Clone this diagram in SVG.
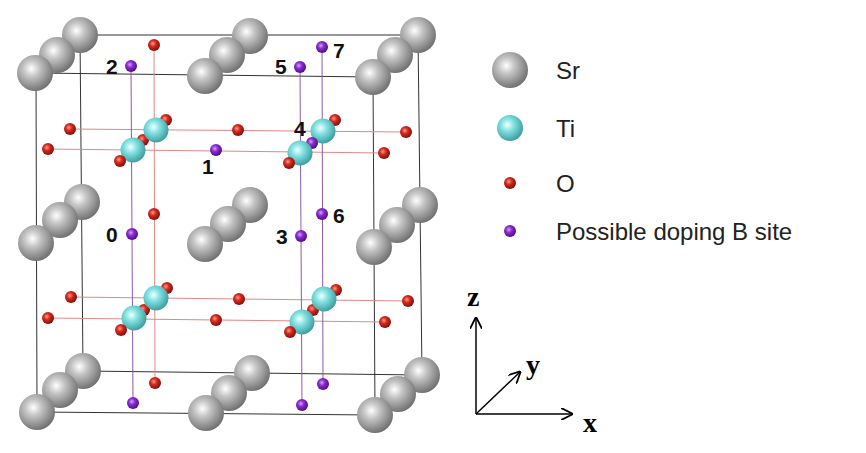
<svg xmlns="http://www.w3.org/2000/svg" width="866" height="453" viewBox="0 0 866 453">
<defs>
<radialGradient id="gs" cx="0.4" cy="0.38" r="0.65"><stop offset="0" stop-color="#ffffff"/><stop offset="0.35" stop-color="#c4c4c4"/><stop offset="1" stop-color="#6e6e6e"/></radialGradient>
<radialGradient id="gt" cx="0.4" cy="0.38" r="0.65"><stop offset="0" stop-color="#f0ffff"/><stop offset="0.4" stop-color="#7fe0e0"/><stop offset="1" stop-color="#3a9a9e"/></radialGradient>
<radialGradient id="go" cx="0.4" cy="0.38" r="0.65"><stop offset="0" stop-color="#ff9a8a"/><stop offset="0.4" stop-color="#d42a1e"/><stop offset="1" stop-color="#7a0e08"/></radialGradient>
<radialGradient id="gp" cx="0.4" cy="0.38" r="0.65"><stop offset="0" stop-color="#d9a0ff"/><stop offset="0.4" stop-color="#8a2ad0"/><stop offset="1" stop-color="#4a0c80"/></radialGradient>
<marker id="ar" viewBox="0 0 10 10" refX="9" refY="5" markerWidth="8" markerHeight="8" orient="auto"><path d="M0,0 L10,5 L0,10" fill="none" stroke="#000" stroke-width="1.5"/></marker>
</defs>
<style>
.sr{fill:url(#gs)} .ti{fill:url(#gt)} .o{fill:url(#go)} .p{fill:url(#gp)}
.bx{stroke:#333;stroke-width:1;fill:none}
.lr{stroke:#d88;stroke-width:1} .lc{stroke:#aee;stroke-width:1} .lp{stroke:#8a5aa0;stroke-width:1}
.n{font-family:"Liberation Sans",Arial,sans-serif;font-weight:bold;font-size:21px;fill:#111}
.lg{font-family:"Liberation Sans",Arial,sans-serif;font-size:24px;fill:#222}
.ax{font-family:"Liberation Serif",serif;font-weight:bold;font-size:28px;fill:#000}
</style>
<rect width="866" height="453" fill="#fff"/>
<g id="connectors">
<path class="bx" d="M80,35 L418,35 L422,375 L83,371 Z"/>
<path class="bx" d="M80,35 L36,73 M418,35 L373,77 M422,375 L375,415 M83,371 L37,412"/>
<path class="bx" d="M36,73 L373,77 L375,415 L37,412 Z"/>
<path class="bx" d="M250,36 L205,76 M250,205 L205,244 M82,202 L36,243 M420,205 L374,247 M252,373 L206,413"/>
<line class="lr" x1="70" y1="129" x2="406" y2="132"/>
<line class="lr" x1="48" y1="149" x2="384" y2="153"/>
<line class="lr" x1="71" y1="297" x2="408" y2="301"/>
<line class="lr" x1="48" y1="318" x2="385" y2="322"/>
<line class="lr" x1="154" y1="45" x2="155" y2="383"/>
<line class="lp" x1="322" y1="47" x2="323" y2="384"/>
<line class="lp" x1="131" y1="66" x2="133" y2="403"/>
<line class="lp" x1="300" y1="67" x2="302" y2="405"/>
<line class="lc" x1="120" y1="161" x2="166" y2="120"/>
<line class="lc" x1="289" y1="163" x2="335" y2="120"/>
<line class="lc" x1="121" y1="330" x2="167" y2="288"/>
<line class="lc" x1="290" y1="332" x2="336" y2="290"/>
</g>
<g id="oxygen">
<circle class="o" cx="154" cy="45" r="6"/>
<circle class="o" cx="70" cy="129" r="6"/><circle class="o" cx="238" cy="130" r="6"/><circle class="o" cx="406" cy="132" r="6"/>
<circle class="o" cx="166" cy="120" r="6"/><circle class="o" cx="335" cy="120" r="6"/>
<circle class="o" cx="143" cy="140" r="6"/>
<circle class="o" cx="48" cy="149" r="6"/><circle class="o" cx="384" cy="153" r="6"/>
<circle class="o" cx="154" cy="214" r="6"/>
<circle class="o" cx="71" cy="297" r="6"/><circle class="o" cx="239" cy="299" r="6"/><circle class="o" cx="408" cy="301" r="6"/>
<circle class="o" cx="167" cy="288" r="6"/><circle class="o" cx="336" cy="290" r="6"/>
<circle class="o" cx="144" cy="310" r="6"/><circle class="o" cx="313" cy="310" r="6"/>
<circle class="o" cx="48" cy="318" r="6"/><circle class="o" cx="216" cy="320" r="6"/><circle class="o" cx="385" cy="322" r="6"/>
<circle class="o" cx="155" cy="383" r="6"/>
</g>
<g id="ti">
<circle class="ti" cx="156" cy="130" r="12.5"/><circle class="ti" cx="133" cy="150" r="12.5"/>
<circle class="ti" cx="323" cy="131" r="12.5"/>
<circle class="p" cx="312" cy="143" r="6"/>
<circle class="ti" cx="300" cy="153" r="12.5"/>
<circle class="ti" cx="156" cy="298" r="12.5"/><circle class="ti" cx="134" cy="318" r="12.5"/>
<circle class="ti" cx="324" cy="299" r="12.5"/><circle class="ti" cx="302" cy="322" r="12.5"/>
<circle class="o" cx="120" cy="161" r="6"/><circle class="o" cx="289" cy="163" r="6"/>
<circle class="o" cx="121" cy="330" r="6"/><circle class="o" cx="290" cy="332" r="6"/>
</g>
<g id="bsites">
<circle class="p" cx="131" cy="66" r="6"/><circle class="p" cx="300" cy="67" r="6"/><circle class="p" cx="322" cy="47" r="6"/>
<circle class="p" cx="216" cy="150" r="6"/><circle class="p" cx="322" cy="214" r="6"/>
<circle class="p" cx="132" cy="234" r="6"/><circle class="p" cx="301" cy="236" r="6"/>
<circle class="p" cx="133" cy="403" r="6"/><circle class="p" cx="302" cy="405" r="6"/><circle class="p" cx="323" cy="384" r="6"/>
</g>
<g id="sr">
<circle class="sr" cx="80" cy="35" r="18"/><circle class="sr" cx="57" cy="55" r="18"/><circle class="sr" cx="35" cy="73" r="18"/>
<circle class="sr" cx="250" cy="36" r="18"/><circle class="sr" cx="227" cy="55" r="18"/><circle class="sr" cx="205" cy="76" r="18"/>
<circle class="sr" cx="418" cy="35" r="18"/><circle class="sr" cx="395" cy="55" r="18"/><circle class="sr" cx="373" cy="77" r="18"/>
<circle class="sr" cx="82" cy="202" r="18"/><circle class="sr" cx="60" cy="220" r="18"/><circle class="sr" cx="36" cy="243" r="18"/>
<circle class="sr" cx="250" cy="205" r="18"/><circle class="sr" cx="228" cy="224" r="18"/><circle class="sr" cx="205" cy="244" r="18"/>
<circle class="sr" cx="420" cy="205" r="18"/><circle class="sr" cx="397" cy="225" r="18"/><circle class="sr" cx="374" cy="247" r="18"/>
<circle class="sr" cx="83" cy="371" r="18"/><circle class="sr" cx="60" cy="390" r="18"/><circle class="sr" cx="37" cy="412" r="18"/>
<circle class="sr" cx="252" cy="373" r="18"/><circle class="sr" cx="229" cy="393" r="18"/><circle class="sr" cx="206" cy="413" r="18"/>
<circle class="sr" cx="422" cy="375" r="18"/><circle class="sr" cx="398" cy="394" r="18"/><circle class="sr" cx="375" cy="415" r="18"/>
</g>
<g id="labels">
<text class="n" x="106" y="74">2</text><text class="n" x="275" y="74">5</text><text class="n" x="333" y="58">7</text>
<text class="n" x="294" y="136">4</text><text class="n" x="202" y="174">1</text>
<text class="n" x="106" y="242">0</text><text class="n" x="276" y="244">3</text><text class="n" x="333" y="223">6</text>
</g>
<g id="legend">
<circle class="sr" cx="510" cy="70" r="18"/><text class="lg" x="556" y="79">Sr</text>
<circle class="ti" cx="510" cy="128" r="13"/><text class="lg" x="556" y="137">Ti</text>
<circle class="o" cx="510" cy="183" r="6"/><text class="lg" x="556" y="192">O</text>
<circle class="p" cx="510" cy="231" r="6"/><text class="lg" x="556" y="240">Possible doping B site</text>
</g>
<g id="axes" stroke="#000" stroke-width="1.5">
<line x1="476" y1="414" x2="476" y2="318" marker-end="url(#ar)"/>
<line x1="476" y1="414" x2="572" y2="414" marker-end="url(#ar)"/>
<line x1="476" y1="414" x2="520" y2="372" marker-end="url(#ar)"/>
</g>
<text class="ax" x="467" y="306">z</text><text class="ax" x="526" y="374">y</text><text class="ax" x="583" y="432">x</text>
</svg>
